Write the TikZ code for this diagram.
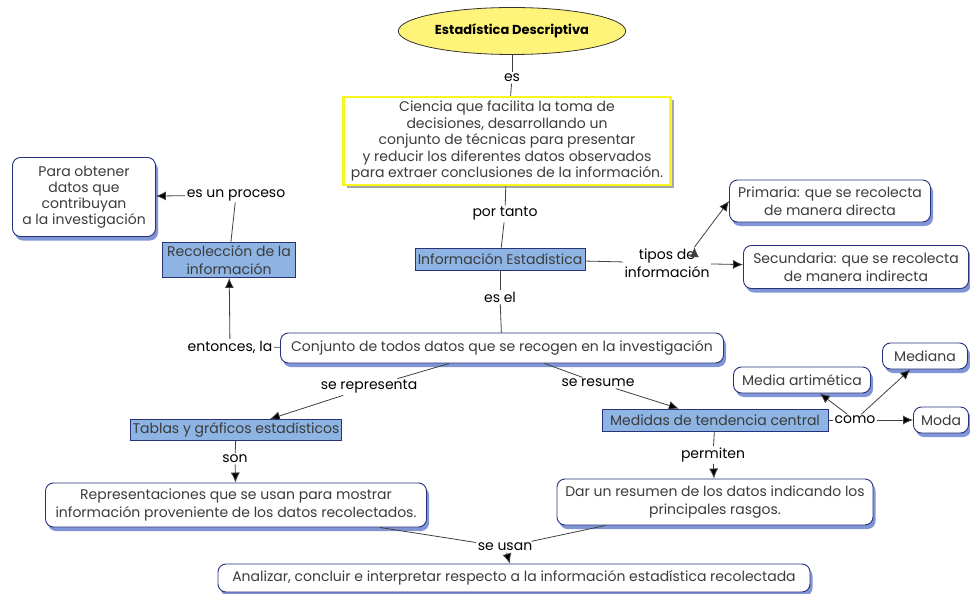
\documentclass[tikz,border=0pt]{standalone}
\usepackage{fontspec}
\setmainfont{Poppins}
\usetikzlibrary{arrows.meta,shadows,shapes.geometric}
\definecolor{keyblue}{HTML}{8DB4E2}
\definecolor{framenavy}{HTML}{27327A}
\definecolor{shadowblue}{HTML}{7F95D6}
\definecolor{lemon}{HTML}{FFF47A}
\definecolor{yellowframe}{HTML}{F7F71E}
\definecolor{bodytext}{HTML}{3C3C3C}
\tikzset{
  concept/.style={draw=framenavy, line width=0.9pt, rounded corners=8pt, fill=white,
    align=center, text=bodytext, inner sep=2pt,
    drop shadow={shadow xshift=2.5pt, shadow yshift=-4pt, fill=shadowblue, opacity=1}},
  keyconcept/.style={draw=framenavy, line width=0.9pt, fill=keyblue, align=center,
    text=bodytext, inner sep=2pt},
  linkword/.style={align=center, inner sep=1.5pt, text=black},
  >={Latex[length=10pt,width=9pt]},
}

\begin{document}
\begin{tikzpicture}[x=1pt, y=-1pt, font=\fontsize{14}{17.5}\selectfont]
\useasboundingbox (0,0) rectangle (970,594);
% root and definition
\node[ellipse, draw=black!80, fill=lemon, line width=0.8pt, minimum width=175pt, minimum height=47pt,
  font=\fontsize{13}{15}\selectfont\bfseries] (desc) at (512,31) {Estadística Descriptiva};
\node[draw=yellowframe, line width=2.5pt, fill=white, align=center, text=bodytext, inner sep=2pt,
  minimum width=327pt, minimum height=88pt, font=\fontsize{14}{16.5}\selectfont,
  drop shadow={shadow xshift=3pt, shadow yshift=-3pt, fill=black!35, opacity=1}] (ciencia) at (507,141)
  {Ciencia que facilita la toma de\\ decisiones, desarrollando un\\ conjunto de técnicas para presentar\\
   y reducir los diferentes datos observados\\ para extraer conclusiones de la información.};
\node[linkword] (es) at (512,78) {es};
\node[linkword] (portanto) at (505,214) {por tanto};
\node[keyconcept, minimum width=170pt, minimum height=22pt] (infoest) at (500,259) {Información Estadística};
\node[linkword] (tipos) at (667,263) {tipos de\\ información};
\node[concept, minimum width=201pt, minimum height=42pt] (primaria) at (830,201) {Primaria: que se recolecta\\ de manera directa};
\node[concept, minimum width=225pt, minimum height=43pt] (secundaria) at (856,267) {Secundaria: que se recolecta\\ de manera indirecta};
\node[linkword] (esel) at (500,297) {es el};
% collected data
\node[concept, minimum width=443pt, minimum height=30pt] (conjunto) at (502,348) {Conjunto de todos datos que se recogen en la investigación};
\node[linkword] (entonces) at (230,347) {entonces, la};
\node[keyconcept, minimum width=133pt, minimum height=35pt] (recol) at (229,260) {Recolección de la\\ información};
\node[linkword] (esproceso) at (236,195) {es un proceso};
\node[concept, minimum width=143pt, minimum height=79pt, font=\fontsize{14}{16}\selectfont] (obtener) at (84,197) {Para obtener\\ datos que\\ contribuyan\\ a la investigación};
\node[linkword] (serepresenta) at (369,387) {se representa};
\node[linkword] (seresume) at (598,383) {se resume};
% tables and measures
\node[keyconcept, minimum width=210pt, minimum height=21pt] (tablas) at (236,430) {Tablas y gráficos estadísticos};
\node[linkword] (son) at (235,459) {son};
\node[concept, minimum width=381pt, minimum height=44pt] (represent) at (236,505) {Representaciones que se usan para mostrar\\ información proveniente de los datos recolectados.};
\node[keyconcept, minimum width=226pt, minimum height=22pt] (medidas) at (715,420) {Medidas de tendencia central};
\node[linkword] (como) at (855,420) {como};
\node[concept, minimum width=137pt, minimum height=26pt] (media) at (802,380) {Media artimética};
\node[concept, minimum width=85pt, minimum height=26pt] (mediana) at (925,356) {Mediana};
\node[concept, minimum width=55pt, minimum height=26pt] (moda) at (941,420) {Moda};
\node[linkword] (permiten) at (713,455) {permiten};
\node[concept, minimum width=316pt, minimum height=46pt] (dar) at (715,502) {Dar un resumen de los datos indicando los\\ principales rasgos.};
\node[linkword] (seusan) at (505,547) {se usan};
\node[concept, minimum width=592pt, minimum height=28pt] (analizar) at (514,578) {Analizar, concluir e interpretar respecto a la información estadística recolectada};

\path[draw=black!75, line width=0.8pt]
  (desc) edge (es) (es) edge (ciencia)
  (ciencia) edge (portanto) (portanto) edge (infoest)
  (infoest) edge (esel) (esel) edge (conjunto)
  (infoest) edge (tipos)
  (conjunto) edge (entonces)
  (recol) edge (esproceso)
  (conjunto) edge (serepresenta)
  (conjunto) edge (seresume)
  (tablas) edge (son)
  (medidas) edge (permiten)
  (medidas) edge (como)
  (represent) edge (seusan)
  (dar) edge (seusan);
\path[->, draw=black!75, line width=0.8pt]
  (tipos.30) edge (primaria.west)
  (tipos) edge (secundaria)
  (entonces) edge (recol)
  (esproceso) edge (obtener)
  (serepresenta) edge (tablas)
  (seresume) edge (medidas)
  (son) edge (represent)
  (permiten) edge (dar)
  (como) edge (media)
  (como) edge (mediana)
  (como) edge (moda)
  (seusan) edge (analizar);
\end{tikzpicture}
\end{document}
